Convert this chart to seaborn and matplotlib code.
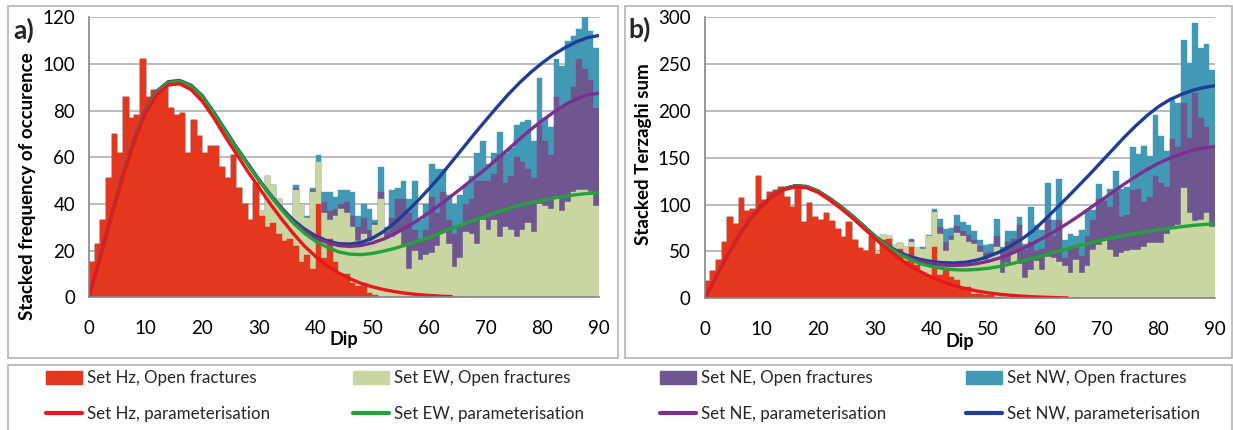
import numpy as np
import matplotlib
matplotlib.use("Agg")
import matplotlib.pyplot as plt
import seaborn as sns
from matplotlib.patches import Rectangle, Patch
from matplotlib.lines import Line2D

sns.set_theme(style="white")
plt.rcParams["font.family"] = ["Lato", "DejaVu Sans"]

# ---------------------------------------------------------------- data
# 1-degree dip classes (left edges 0..89)
dip_classes = np.arange(90)

# a) frequency of occurrence, open fractures per set
hz_freq = [15, 23, 33, 51, 70, 62, 86, 77, 78, 102,
           86, 89, 89, 91, 81, 78, 79, 62, 76, 69,
           62, 65, 65, 56, 51, 61, 47, 40, 33, 49,
           35, 30, 32, 27, 24, 25, 22, 15, 18, 12,
           40, 17, 25, 15, 10, 10, 6, 5, 6, 2,
           1] + [0] * 39
ew_freq = [0] * 30 + [2, 22, 16, 15, 12, 9, 24, 25, 16, 33,
                      18, 19, 8, 20, 28, 26, 24, 19, 21, 22,
                      30, 42, 25, 26, 28, 22, 12, 20, 16, 18,
                      19, 22, 28, 23, 13, 17, 28, 27, 23, 33,
                      29, 33, 26, 30, 29, 26, 29, 32, 28, 40,
                      39, 38, 42, 37, 41, 45, 46, 46, 45, 39]
ne_freq = [0] * 30 + [0, 0, 0, 0, 0, 0, 1, 0, 0, 1,
                      0, 5, 4, 3, 2, 5, 5, 6, 7, 5,
                      1, 3, 3, 8, 14, 20, 24, 9, 9, 11,
                      24, 14, 17, 10, 14, 13, 12, 15, 27, 17,
                      21, 20, 35, 19, 23, 34, 29, 23, 23, 34,
                      28, 23, 44, 45, 42, 45, 56, 52, 48, 42]
nw_freq = [0] * 30 + [0, 0, 0, 0, 0, 0, 1, 0, 1, 1,
                      3, 4, 8, 5, 6, 5, 10, 5, 6, 9,
                      1, 11, 2, 12, 5, 8, 6, 21, 8, 11,
                      14, 19, 10, 11, 13, 14, 8, 10, 12, 17,
                      7, 9, 10, 13, 12, 14, 17, 21, 16, 20,
                      10, 12, 16, 17, 27, 22, 13, 22, 21, 26]

# b) Terzaghi-weighted sums per set
hz_terz = [18, 29, 41, 60, 87, 79, 107, 93, 95, 131,
           105, 114, 116, 119, 108, 98, 119, 81, 102, 87,
           84, 91, 83, 74, 65, 81, 62, 54, 50, 66,
           47, 62, 63, 50, 53, 40, 55, 36, 27, 25,
           55, 25, 30, 23, 20, 12, 12, 5, 5, 3,
           3, 1, 1] + [0] * 37
ew_terz = [0] * 30 + [3, 6, 4, 7, 6, 15, 5, 18, 26, 41,
                      37, 44, 20, 39, 50, 54, 48, 53, 44, 38,
                      42, 54, 26, 38, 48, 37, 22, 30, 40, 30,
                      44, 43, 39, 34, 27, 41, 27, 34, 52, 57,
                      62, 52, 44, 48, 50, 52, 52, 55, 59, 59,
                      59, 69, 76, 78, 118, 91, 82, 84, 91, 76]
ne_terz = [0] * 30 + [0, 0, 0, 0, 0, 0, 2, 0, 0, 1,
                      1, 7, 10, 4, 7, 6, 8, 4, 7, 7,
                      4, 12, 23, 22, 15, 41, 30, 30, 10, 23,
                      40, 23, 45, 9, 28, 14, 18, 32, 32, 49,
                      42, 46, 70, 39, 39, 64, 65, 48, 49, 72,
                      64, 50, 94, 84, 91, 80, 137, 108, 92, 83]
nw_terz = [0] * 30 + [0, 0, 0, 0, 0, 0, 1, 0, 2, 1,
                      2, 9, 14, 9, 12, 9, 10, 10, 6, 9,
                      9, 18, 5, 12, 9, 9, 6, 38, 28, 20,
                      39, 18, 43, 19, 14, 11, 28, 28, 10, 16,
                      2, 19, 22, 30, 30, 46, 37, 60, 44, 65,
                      50, 38, 42, 46, 67, 80, 75, 75, 89, 85]

# parameterised curves (stacked values), sampled every 2 degrees
fit_dip = np.arange(0, 91, 2)
hz_fit_dip = np.arange(0, 65, 2)

hz_fit_freq = [0, 17, 35, 52, 67, 79, 87, 91, 91.5, 89,
               84, 77, 69, 61.5, 54, 47, 40, 33.5, 27.5, 22,
               17.5, 13.5, 10.5, 8, 6, 4.5, 3.3, 2.4, 1.7, 1.2,
               0.8, 0.5, 0.3]
ew_fit_freq = [0, 17, 35, 52.5, 67.5, 79.5, 88, 92, 92.5, 90.5,
               86, 79, 71.5, 64, 57, 50, 43.5, 37.5, 32, 27.5,
               24, 21.5, 19.5, 18.5, 18.3, 18.8, 19.8, 21, 22.5, 24,
               25.5, 27.5, 29.5, 31.3, 33, 34.7, 36.5, 38, 39.5, 40.5,
               41.5, 42.5, 43.3, 44, 44.5, 44.7]
ne_fit_freq = [0, 17.2, 35.2, 52.7, 67.7, 79.7, 88.2, 92.2, 92.7, 90.7,
               86.2, 79.2, 71.7, 64.2, 57.2, 50.2, 43.7, 37.8, 32.5, 28.5,
               25.5, 23.5, 22.2, 21.8, 22.2, 23.3, 25, 27.3, 30, 33,
               36.3, 39.8, 43.5, 47.3, 51.2, 55, 59.3, 63.5, 67.8, 72,
               75.8, 79.3, 82.5, 85, 86.8, 87.5]
nw_fit_freq = [0, 17.4, 35.4, 52.9, 67.9, 79.9, 88.4, 92.4, 92.9, 90.9,
               86.4, 79.4, 71.9, 64.4, 57.4, 50.4, 44, 38.3, 33.2, 29.3,
               26.3, 24.2, 23, 22.8, 23.5, 25.3, 28.2, 32, 36.5, 41.3,
               46.5, 52, 58, 64, 70, 75.8, 81.5, 87, 92, 96.5,
               100.5, 104, 107, 109.5, 111.3, 112.2]

hz_fit_terz = [0, 22, 45, 66, 84, 98, 109, 116, 119, 118,
               113, 105, 96, 86, 75, 64, 53.5, 44, 35.5, 28.5,
               22.5, 17.5, 13.5, 10.3, 7.8, 5.8, 4.3, 3.2, 2.3, 1.6,
               1.1, 0.7, 0.4]
ew_fit_terz = [0, 22, 45, 66, 84, 98, 109.3, 116.5, 119.7, 118.8,
               114, 106.3, 97.5, 87.8, 77, 66, 56.5, 48, 42, 37,
               34, 31.8, 30.5, 30.2, 30.8, 32, 34, 36.7, 39.8, 43,
               46.3, 49.8, 53, 56.3, 59.3, 62, 64.7, 67, 69.2, 71.2,
               73, 74.8, 76.3, 77.8, 78.8, 79.5]
ne_fit_terz = [0, 22.3, 45.3, 66.3, 84.3, 98.3, 109.6, 116.8, 120, 119.1,
               114.3, 106.6, 97.8, 88.1, 77.3, 66.3, 57, 49, 43.5, 39.5,
               37, 35.5, 35, 35.5, 37, 39.5, 43, 47.5, 53, 59,
               65.5, 72.5, 80, 88, 96.5, 105, 113.5, 122, 130, 137.5,
               144, 149.5, 154, 158, 160.5, 162]
nw_fit_terz = [0, 22.6, 45.6, 66.6, 84.6, 98.6, 109.9, 117.1, 120.3, 119.4,
               114.6, 106.9, 98.1, 88.4, 77.6, 66.6, 57.5, 50, 45, 41.5,
               39.3, 38, 37.7, 38.5, 40.8, 44.5, 49.5, 56, 63.5, 72.5,
               84, 96, 108, 120.5, 133, 146, 159, 172, 184, 195,
               204.5, 212, 217.5, 222, 225, 227]

# ---------------------------------------------------------------- style
HZ_BAR, EW_BAR, NE_BAR, NW_BAR = "#E5361E", "#C9D6A1", "#6E5690", "#4299B6"
HZ_LINE, EW_LINE, NE_LINE, NW_LINE = "#E8171C", "#23A13B", "#7D2F8F", "#1F3D97"
AXIS_GREY = "#868686"
GRID_GREY = "#A8A8A8"
FRAME_GREY = "#B4B4B4"

W, H = 1233, 430
fig = plt.figure(figsize=(W / 100, H / 100), dpi=100)
fig.patch.set_facecolor("white")


def fx(px):
    return px / W


def fy(py):
    return 1 - py / H


def draw_panel(ax, hz, ew, ne, nw, fits, ymax, ystep, ylabel, ylabel_pos):
    hz, ew, ne, nw = map(np.asarray, (hz, ew, ne, nw))
    centers = dip_classes + 0.5
    stacked = [(hz + ew + ne + nw, NW_BAR), (hz + ew + ne, NE_BAR),
               (hz + ew, EW_BAR), (hz, HZ_BAR)]
    for top, col in stacked:
        sns.barplot(x=centers, y=top, native_scale=True, width=1.0,
                    color=col, saturation=1, edgecolor=col, linewidth=0.3,
                    errorbar=None, ax=ax)
    for xs, ys, col in fits:
        sns.lineplot(x=xs, y=ys, color=col, linewidth=2.4, ax=ax,
                     legend=False, solid_capstyle="round")

    ax.set_xlim(0, 90)
    ax.set_ylim(0, ymax)
    ax.set_xticks(range(0, 91, 10))
    ax.set_yticks(range(0, ymax + 1, ystep))
    ax.yaxis.grid(True, color=GRID_GREY, linewidth=1.1)
    ax.xaxis.grid(False)
    ax.set_axisbelow(True)
    for side in ("top", "right"):
        ax.spines[side].set_visible(False)
    for side in ("left", "bottom"):
        ax.spines[side].set_color(AXIS_GREY)
        ax.spines[side].set_linewidth(1.2)
    ax.tick_params(axis="x", direction="out", length=5, width=1.1,
                   color=AXIS_GREY, pad=11, labelsize=13.5, labelcolor="black")
    ax.tick_params(axis="y", direction="out", length=4, width=1.1,
                   color=AXIS_GREY, pad=6, labelsize=13.5, labelcolor="black")
    ax.set_xlabel("Dip", fontsize=13, fontweight="bold", color="black")
    ax.xaxis.set_label_coords(0.5, -0.122)
    ax.set_ylabel(ylabel, fontsize=13.5, fontweight="bold", color="black")
    ax.yaxis.set_label_coords(*ylabel_pos)


ax_a = fig.add_axes([fx(89), fy(297.3), fx(599 - 89), (297.3 - 17.3) / H])
draw_panel(ax_a, hz_freq, ew_freq, ne_freq, nw_freq,
           [(fit_dip, nw_fit_freq, NW_LINE), (fit_dip, ne_fit_freq, NE_LINE),
            (fit_dip, ew_fit_freq, EW_LINE), (hz_fit_dip, hz_fit_freq, HZ_LINE)],
           120, 20, "Stacked frequency of occurence", (-0.104, 0.398))

ax_b = fig.add_axes([fx(704.7), fy(298.3), fx(1215 - 704.7), (298.3 - 17.3) / H])
draw_panel(ax_b, hz_terz, ew_terz, ne_terz, nw_terz,
           [(fit_dip, nw_fit_terz, NW_LINE), (fit_dip, ne_fit_terz, NE_LINE),
            (fit_dip, ew_fit_terz, EW_LINE), (hz_fit_dip, hz_fit_terz, HZ_LINE)],
           300, 50, "Stacked Terzaghi sum", (-0.103, 0.513))

# panel letters
fig.text(fx(24), fy(30), "a)", fontsize=19, fontweight="bold", ha="center", va="center")
fig.text(fx(640), fy(29), "b)", fontsize=19, fontweight="bold", ha="center", va="center")

# panel and legend frames
for x0, y0, x1, y1 in [(7.5, 5.5, 618, 358), (624.5, 5.5, 1232, 358),
                       (7.5, 365, 1232, 440)]:
    fig.add_artist(Rectangle((fx(x0), fy(y1)), fx(x1 - x0), (y1 - y0) / H,
                             transform=fig.transFigure, fill=False,
                             edgecolor=FRAME_GREY, linewidth=1.2))

# legend: one column per fracture set, bars on top row, curves below
legend_cols = [
    (46, HZ_BAR, HZ_LINE, "Set Hz"),
    (353, EW_BAR, EW_LINE, "Set EW"),
    (660, NE_BAR, NE_LINE, "Set NE"),
    (966, NW_BAR, NW_LINE, "Set NW"),
]
for x_px, bar_col, line_col, name in legend_cols:
    handles = [Patch(facecolor=bar_col, edgecolor=bar_col),
               Line2D([], [], color=line_col, linewidth=3)]
    labels = [f"{name}, Open fractures", f"{name}, parameterisation"]
    fig.legend(handles, labels, loc="upper left",
               bbox_to_anchor=(fx(x_px), fy(370.5)), bbox_transform=fig.transFigure,
               frameon=False, borderpad=0, borderaxespad=0, fontsize=12.2,
               handlelength=2.1, handleheight=0.85, handletextpad=0.3,
               labelspacing=1.15)

fig.savefig("out.png", dpi=100, facecolor="white")
